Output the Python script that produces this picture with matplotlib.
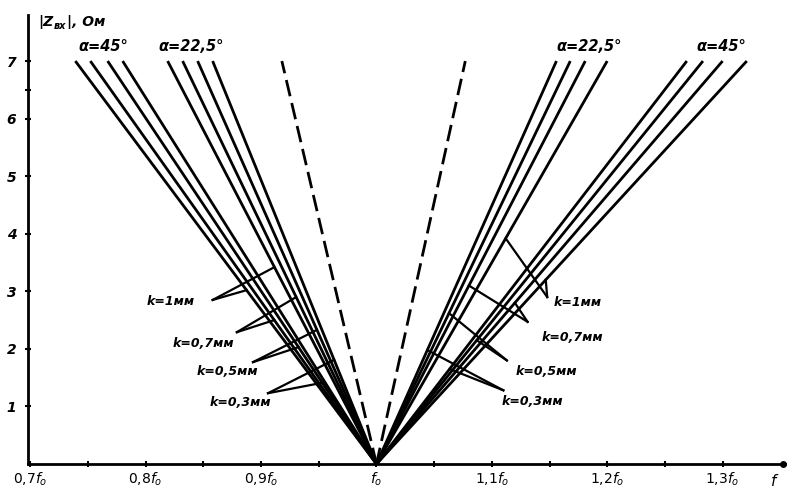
import numpy as np
import matplotlib.pyplot as plt

# common origin of all curves: f = f0, |Z| = 0
f_start = 1.0
z_top = 7.0

# upper ends of the lines (f / f0 at |Z| = 7 Ohm), order k = 1, 0.7, 0.5, 0.3
left_45 = [0.739, 0.752, 0.767, 0.780]
left_22 = [0.819, 0.832, 0.845, 0.858]
right_22 = [1.200, 1.181, 1.168, 1.156]
right_45 = [1.321, 1.300, 1.283, 1.269]
dashed_ends = [0.918, 1.077]

k_labels = ["k=1мм", "k=0,7мм", "k=0,5мм", "k=0,3мм"]
k_labels_r = ["k=1мм", "k=0,7мм", "k=0,5мм", "k=0,3мм"]

# label positions (f, |Z|) and leader start points
left_text = [(0.822, 2.83), (0.850, 2.10), (0.871, 1.61), (0.882, 1.06)]
left_origin = [(0.858, 2.85), (0.879, 2.29), (0.893, 1.77), (0.906, 1.23)]
left_hit_22 = [3.42, 2.90, 2.33, 1.81]
left_hit_45 = [3.02, 2.50, 2.03, 1.42]

right_text = [(1.174, 2.81), (1.170, 2.20), (1.147, 1.60), (1.135, 1.08)]
right_origin = [(1.148, 2.90), (1.131, 2.47), (1.113, 1.80), (1.110, 1.28)]
right_hit_22 = [3.92, 3.10, 2.62, 1.98]
right_hit_45 = [3.20, 2.80, 2.15, 1.65]

x_ticks = [0.7, 0.8, 0.9, 1.0, 1.1, 1.2, 1.3]
x_tick_labels = [r"$0{,}7f_o$", r"$0{,}8f_o$", r"$0{,}9f_o$", r"$f_o$",
                 r"$1{,}1f_o$", r"$1{,}2f_o$", r"$1{,}3f_o$"]
y_ticks = [1, 2, 3, 4, 5, 6, 7]

plt.rcParams['font.family'] = ['DejaVu Sans']
plt.rcParams['mathtext.fontset'] = 'dejavusans'

fig = plt.figure(figsize=(7.92, 4.93), dpi=100)
ax = fig.add_axes([0.0354, 0.0588, 0.9556, 0.9108])
ax.set_xlim(0.698, 1.354)
ax.set_ylim(0, 7.8)

lw = 2.0
for group in (left_45, left_22, right_22, right_45):
    for f_end in group:
        ax.plot([f_start, f_end], [0, z_top], color="black", lw=lw,
                solid_capstyle="butt")

for f_end in dashed_ends:
    ax.plot([f_start, f_end], [0, z_top], color="black", lw=lw,
            linestyle=(0, (6, 2.5)))


def point_on(f_end, z):
    # f on the straight line from (f0, 0) to (f_end, 7) at height z
    return f_start + (f_end - f_start) * z / z_top


txt_style = dict(fontsize=9, fontweight="bold", fontstyle="italic",
                 ha="center", va="center")

for i, lab in enumerate(k_labels):
    ox, oy = left_origin[i]
    for group, z in ((left_22, left_hit_22[i]), (left_45, left_hit_45[i])):
        ax.plot([ox, point_on(group[i], z)], [oy, z], color="black", lw=1.6)
    ax.text(*left_text[i], lab, **txt_style)

for i, lab in enumerate(k_labels_r):
    ox, oy = right_origin[i]
    for group, z in ((right_22, right_hit_22[i]), (right_45, right_hit_45[i])):
        ax.plot([ox, point_on(group[i], z)], [oy, z], color="black", lw=1.6)
    ax.text(*right_text[i], lab, **txt_style)

a_style = dict(fontsize=10.5, fontweight="bold", fontstyle="italic",
               ha="center", va="center")
ax.text(0.763, 7.25, "α=45°", **a_style)
ax.text(0.839, 7.25, "α=22,5°", **a_style)
ax.text(1.184, 7.25, "α=22,5°", **a_style)
ax.text(1.299, 7.25, "α=45°", **a_style)

# axes in the old drawing style
for s in ("top", "right"):
    ax.spines[s].set_visible(False)
ax.spines["left"].set_linewidth(2.0)
ax.spines["bottom"].set_linewidth(2.0)

ax.set_xticks(x_ticks)
ax.set_xticklabels(x_tick_labels, fontsize=10, fontweight="bold")
ax.set_xticks([0.75, 0.85, 0.95, 1.05, 1.15, 1.25], minor=True)
ax.set_yticks(y_ticks)
ax.set_yticklabels([str(v) for v in y_ticks], fontsize=10,
                   fontweight="bold", fontstyle="italic")
ax.set_yticks([6.5], minor=True)
ax.tick_params(axis="both", which="both", direction="inout", length=5,
               width=1.5, pad=2)
ax.tick_params(axis="y", pad=6)

ax.text(0.013, 0.985, "|Z", transform=ax.transAxes,
        fontsize=10, fontweight="bold", fontstyle="italic",
        ha="left", va="center")
ax.text(0.0335, 0.975, "вх", transform=ax.transAxes,
        fontsize=7, fontweight="bold", fontstyle="italic",
        ha="left", va="center")
ax.text(0.052, 0.985, "|, Ом", transform=ax.transAxes,
        fontsize=10, fontweight="bold", fontstyle="italic",
        ha="left", va="center")
ax.text(1.345, -0.3, r"$f$", fontsize=11, ha="center", va="center")
ax.plot([1.352], [0], marker="o", markersize=4, color="black", clip_on=False)

fig.savefig("out.png", dpi=100)
